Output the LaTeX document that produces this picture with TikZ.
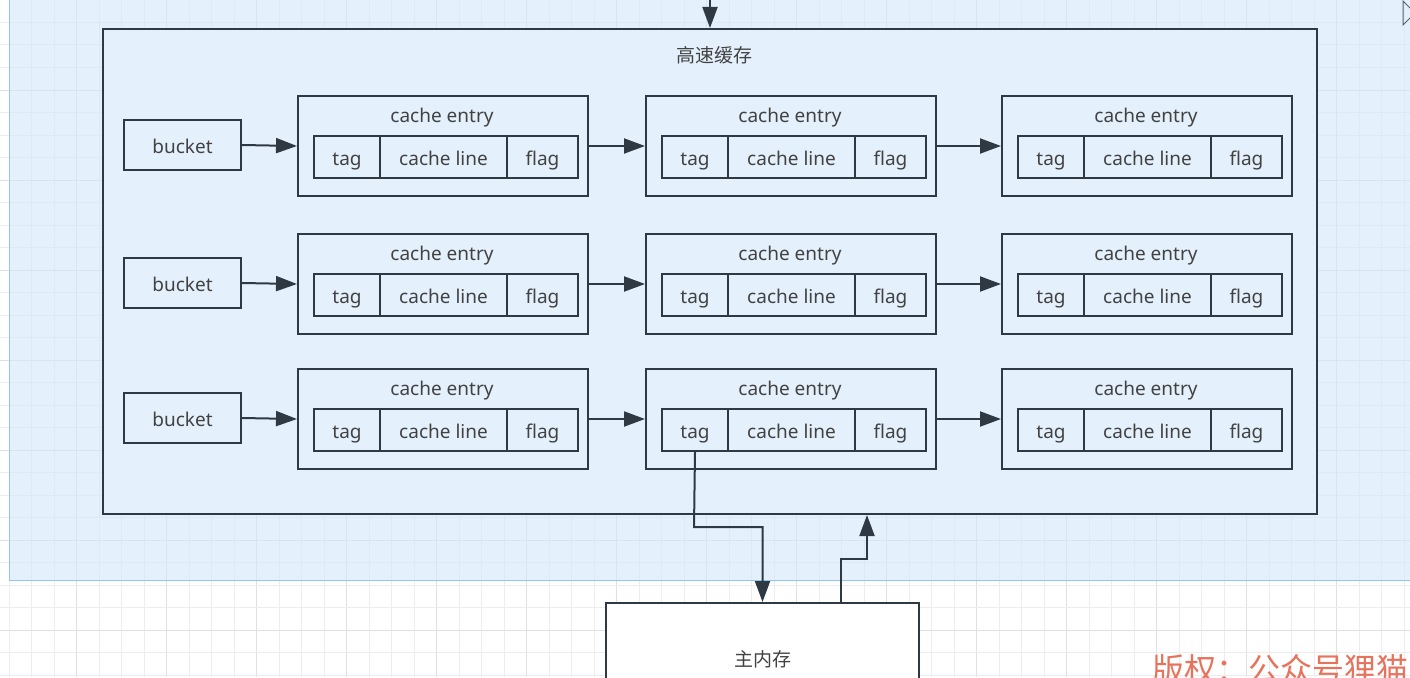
\documentclass[tikz,border=0pt]{standalone}
\usepackage{fontspec}
\setmainfont{Noto Sans}
\newfontfamily\cjk{Noto Sans CJK SC}
\usetikzlibrary{arrows.meta,calc}
\definecolor{ln}{HTML}{2F3943}
\definecolor{tx}{HTML}{424242}
\definecolor{bfill}{HTML}{E4F1FD}
\definecolor{reg}{HTML}{D3E8FB}
\definecolor{regb}{HTML}{94C5F0}
\definecolor{gmin}{HTML}{EDEDED}
\definecolor{gmaj}{HTML}{E0E0E0}
\definecolor{wm}{HTML}{E8735C}
\tikzset{
  box/.style={draw=ln, line width=2pt, inner sep=0pt, anchor=north west, text=tx, text height=16pt, text depth=0pt, font=\fontsize{19}{22}\selectfont},
  lbl/.style={inner sep=0pt, text=tx, text height=16pt, text depth=0pt, font=\fontsize{19}{22}\selectfont},
  arr/.style={draw=ln, line width=2pt, -{Triangle[length=21pt,width=15pt]}},
}
\begin{document}
\begin{tikzpicture}[x=1pt,y=-1pt]
\useasboundingbox (0,0) rectangle (1410,677);
\clip (0,0) rectangle (1410,677);
\fill[white] (0,0) rectangle (1410,677);
% grid
\foreach \k in {0,...,62} {
  \pgfmathtruncatemacro{\m}{mod(\k,4)}
  \ifnum\m=3 \draw[gmaj, line width=1pt] ({9+22.5*\k},0) -- ({9+22.5*\k},677);
  \else \draw[gmin, line width=1pt] ({9+22.5*\k},0) -- ({9+22.5*\k},677); \fi
}
\foreach \k in {0,...,30} {
  \pgfmathtruncatemacro{\m}{mod(\k,4)}
  \ifnum\m=0 \draw[gmaj, line width=1pt] (0,{22.5*\k}) -- (1410,{22.5*\k});
  \else \draw[gmin, line width=1pt] (0,{22.5*\k}) -- (1410,{22.5*\k}); \fi
}
% blue region
\fill[reg, opacity=0.6] (9,-5) rectangle (1420,580);
\draw[regb, line width=1pt] (9,-5) -- (9,580) -- (1420,580);
% outer cache box
\node[box, fill=bfill, minimum width=1214pt, minimum height=485pt] (cache) at (102,28) {};
\node[inner sep=0pt, text=tx, font=\cjk\fontsize{19}{22}\selectfont] (title) at (714,55) {高速缓存};
% buckets
\foreach \r/\c in {1/145,2/283,3/418} {
  \node[box, minimum width=117pt, minimum height=50pt, anchor=center] (b\r) at (182.5,\c) {bucket};
}
% entries
\foreach \r/\T in {1/95,2/233,3/368} {
  \foreach \col/\L in {1/297,2/645,3/1001} {
    \node[box, minimum width=290pt, minimum height=100pt] (e\r\col) at (\L,\T) {};
    \node[lbl] (h\r\col) at (\L+145,\T+19) {cache entry};
    \node[box, minimum width=66pt, minimum height=42pt] (t\r\col) at (\L+16,\T+40) {tag};
    \node[box, minimum width=127pt, minimum height=42pt] (c\r\col) at (\L+82,\T+40) {cache line};
    \node[box, minimum width=71pt, minimum height=42pt] (f\r\col) at (\L+209,\T+40) {flag};
  }
  \draw[arr] (b\r.east) -- (e\r1.west);
  \draw[arr] (e\r1.east) -- (e\r2.west);
  \draw[arr] (e\r2.east) -- (e\r3.west);
}
% main memory
\node[draw=ln, line width=2pt, inner sep=0pt, anchor=north west, fill=white, minimum width=313pt, minimum height=112pt, text=tx, font=\cjk\fontsize{19}{22}\selectfont] (mem) at (605,602) {主内存};
% connectors
\coordinate (top) at (710,-5);
\draw[arr] (top) -- (top |- cache.north);
\coordinate (k1) at (694,527);
\draw[arr] (t32.south) -- (k1) -| (mem.north);
\coordinate (k2) at (867,559);
\coordinate (m2) at ($(mem.north west)!0.75!(mem.north east)$);
\draw[arr] (m2) |- (k2) -- (k2 |- cache.south);
% cursor glyph
\draw[ln!80, line width=1pt] (1411,9) -- (1403,1) -- (1403,25) -- (1411,17);
% watermark
\node[inner sep=0pt, anchor=base west, text=wm, font=\cjk\fontsize{32}{36}\selectfont] (wmk) at (1152,681) {版权：公众号狸猫};
\end{tikzpicture}
\end{document}
